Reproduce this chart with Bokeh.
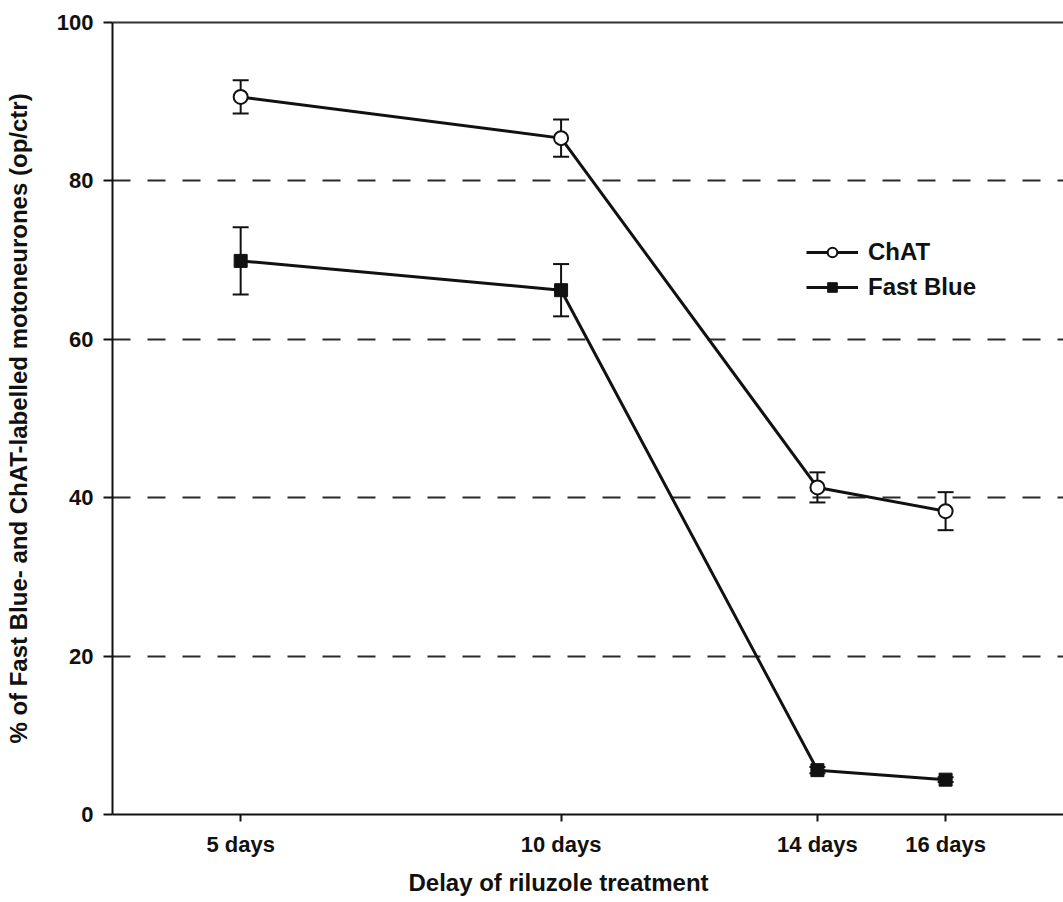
from bokeh.plotting import figure
from bokeh.models import (ColumnDataSource, Whisker, FixedTicker, LinearAxis, Title,
                          Legend, LegendItem, Range1d, TeeHead)
from bokeh.embed import file_html
from bokeh.resources import INLINE

# ---- data ----
days = [5, 10, 14, 16]
tick_labels = ["5 days", "10 days", "14 days", "16 days"]
chat_mean = [90.6, 85.4, 41.3, 38.3]
chat_err = [2.1, 2.35, 1.9, 2.4]
fb_mean = [69.9, 66.2, 5.6, 4.4]
fb_err = [4.25, 3.3, 0.4, 0.3]
y_ticks = [0, 20, 40, 60, 80, 100]
grid_ticks = [20, 40, 60, 80]

FONT = "Liberation Sans"
INK = "#111111"

chat_src = ColumnDataSource(dict(
    x=days, y=chat_mean,
    lo=[m - e for m, e in zip(chat_mean, chat_err)],
    hi=[m + e for m, e in zip(chat_mean, chat_err)]))
fb_src = ColumnDataSource(dict(
    x=days, y=fb_mean,
    lo=[m - e for m, e in zip(fb_mean, fb_err)],
    hi=[m + e for m, e in zip(fb_mean, fb_err)]))

p = figure(width=1063, height=902, x_range=Range1d(3, 17.84), y_range=Range1d(0, 100),
           output_backend="svg", toolbar_location=None,
           min_border_left=112, min_border_right=0, min_border_top=22, min_border_bottom=6)
p.outline_line_color = None
p.background_fill_color = "white"
p.border_fill_color = "white"

# grid
p.xgrid.visible = False
p.ygrid.ticker = FixedTicker(ticks=grid_ticks)
p.ygrid.grid_line_color = "#2a2a2a"
p.ygrid.grid_line_width = 2
p.ygrid.grid_line_dash = "18 17"

# axes
p.xaxis.ticker = FixedTicker(ticks=days)
p.xaxis.major_label_overrides = {d: t for d, t in zip(days, tick_labels)}
p.yaxis.ticker = FixedTicker(ticks=y_ticks)
for ax in (p.xaxis[0], p.yaxis[0]):
    ax.axis_line_color = INK
    ax.axis_line_width = 2
    ax.major_tick_line_color = INK
    ax.major_tick_line_width = 2
    ax.major_tick_in = 0
    ax.minor_tick_line_color = None
    ax.major_label_text_font = FONT
    ax.major_label_text_font_style = "bold"
    ax.major_label_text_font_size = "22px"
    ax.major_label_text_color = INK
p.xaxis.major_tick_out = 7
p.xaxis.major_label_standoff = 10
p.yaxis.major_tick_out = 9
p.yaxis.major_label_standoff = 10
p.yaxis.axis_label = "% of Fast Blue- and ChAT-labelled motoneurones (op/ctr)"
p.yaxis.axis_label_text_font = FONT
p.yaxis.axis_label_text_font_style = "bold"
p.yaxis.axis_label_text_font_size = "24px"
p.yaxis.axis_label_text_color = INK
p.yaxis.axis_label_standoff = 22

top = LinearAxis(ticker=FixedTicker(ticks=[]), axis_line_color="#333333", axis_line_width=2,
                 major_tick_line_color=None, minor_tick_line_color=None,
                 major_label_text_font_size="0px")
p.add_layout(top, "above")

# x-axis title, placed as in the original (left part of the frame)
xt = Title(text="Delay of riluzole treatment", align="left", offset=296,
           text_font=FONT, text_font_style="bold", text_font_size="24px",
           text_color=INK, standoff=14)
p.add_layout(xt, "below")

# error bars
for src in (chat_src, fb_src):
    w = Whisker(source=src, base="x", lower="lo", upper="hi", dimension="height",
                line_color=INK, line_width=2,
                upper_head=TeeHead(size=16, line_color=INK, line_width=2),
                lower_head=TeeHead(size=16, line_color=INK, line_width=2))
    p.add_layout(w)

# series
chat_line = p.line("x", "y", source=chat_src, line_color=INK, line_width=3)
fb_line = p.line("x", "y", source=fb_src, line_color=INK, line_width=3)
chat_pts = p.scatter("x", "y", source=chat_src, marker="circle", size=14,
                     fill_color="white", line_color=INK, line_width=2)
fb_pts = p.scatter("x", "y", source=fb_src, marker="square", size=13,
                   fill_color=INK, line_color=INK, line_width=1)

legend = Legend(items=[LegendItem(label="ChAT", renderers=[chat_line, chat_pts]),
                       LegendItem(label="Fast Blue", renderers=[fb_line, fb_pts])],
                location=(694, 513), padding=0, margin=0, spacing=7,
                border_line_color=None, background_fill_alpha=0,
                glyph_width=52, glyph_height=24, label_standoff=10,
                label_text_font=FONT, label_text_font_style="bold",
                label_text_font_size="24px", label_text_color=INK)
p.add_layout(legend)

open("out.html", "w").write(file_html(p, INLINE))
